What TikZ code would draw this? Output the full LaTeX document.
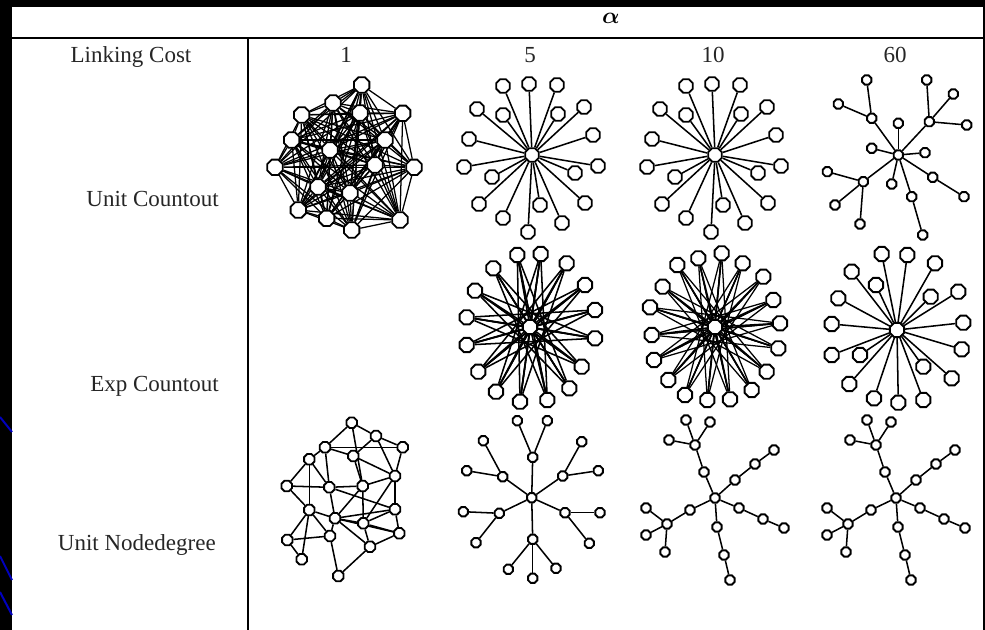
\documentclass[tikz,border=0pt]{standalone}
\usepackage{amsmath}
\usepackage{fontspec}
\setmainfont{Liberation Serif}
\usetikzlibrary{shapes.geometric}
\pgfdeclarelayer{bglayer}
\pgfdeclarelayer{edgelayer}
\pgfsetlayers{bglayer,edgelayer,main}
\tikzset{
  octa/.style={regular polygon, regular polygon sides=8, draw=black, fill=white,
    line width=1.4pt, inner sep=0pt, minimum size=#1},
  bign/.style={octa=11pt},
  densen/.style={octa=12.5pt},
  ringn/.style={octa=11.5pt},
  tn/.style={octa=7.5pt},
  rn/.style={octa=8.5pt},
  edge/.style={line width=1.15pt, black},
  thinedge/.style={line width=0.95pt, black},
  lbl/.style={font=\fontsize{17.25}{20}\selectfont, inner sep=0pt, text=black!85},
  rule/.style={line width=2.2pt, black}
}
% star layout (rows 1, columns 5 and 10)
\newcommand\starA[3]{%
  \node[bign] (#1c) at (#2,#3) {};
  \foreach \dx/\dy [count=\i] in {-29/-69,-3/-71,25/-70,-55/-46,-29/-40,26/-41,52/-48,-63/-16,61/-20,-68/12,-40/22,43/18,66/11,-53/49,53/48,-29/63,8/50,30/68,-4/77}
    {\node[bign] (#1\i) at ({#2+\dx},{#3+\dy}) {};}
  \begin{pgfonlayer}{edgelayer}
    \foreach \i in {1,...,19} \draw[edge] (#1c) -- (#1\i);
  \end{pgfonlayer}
}
% tree layout (row 3, columns 10 and 60)
\newcommand\treeB[3]{%
  \node[tn] (#1c) at (#2,#3) {};
  \foreach \nm/\dx/\dy in {u1/-11/-26,u2/-20/-53,u3/-29/-78,u4/-5/-76,u5/-46/-58,r1/20/-18,r2/40/-34,r3/59/-48,s1/24/10,s2/48/21,s3/69/30,d1/2/29,d2/9/57,d3/15/82,l1/-25/12,l2/-48/26,l3/-69/10,l4/-69/37,l5/-50/54}
    {\node[tn] (#1\nm) at ({#2+\dx},{#3+\dy}) {};}
  \begin{pgfonlayer}{edgelayer}
    \foreach \a/\b in {c/u1,u1/u2,u2/u3,u2/u4,u2/u5,c/r1,r1/r2,r2/r3,c/s1,s1/s2,s2/s3,c/d1,d1/d2,d2/d3,c/l1,l1/l2,l2/l3,l2/l4,l2/l5}
      \draw[edge] (#1\a) -- (#1\b);
  \end{pgfonlayer}
}
\begin{document}
\begin{tikzpicture}[x=0.75pt,y=-0.75pt]
\useasboundingbox (0,0) rectangle (985,630);
\begin{pgfonlayer}{bglayer}
  \fill[black] (0,0) rectangle (985,630);
  \fill[white] (12,7) rectangle (983,630);
  \draw[blue!75!black, line width=1.5pt] (0,417) -- (12,432);
  \draw[blue!75!black, line width=1.5pt] (0,556) -- (12,580);
  \draw[blue!75!black, line width=1.5pt] (0,592) -- (12,615);
\end{pgfonlayer}

% table rules
\draw[rule] (12,38) -- (983,38);
\draw[rule] (248,38) -- (248,630);

% headers
\node[font=\fontsize{17}{18}\selectfont, inner sep=0pt] (alpha) at (611,18) {$\boldsymbol{\alpha}$};
\node[lbl, anchor=base] (hlc) at (131,63) {Linking Cost};
\node[lbl, anchor=base] (h1) at (346,63) {1};
\node[lbl, anchor=base] (h5) at (530,63) {5};
\node[lbl, anchor=base] (h10) at (713,63) {10};
\node[lbl, anchor=base] (h60) at (895,63) {60};
\node[lbl, anchor=base east] (rowa) at (219,207) {Unit Countout};
\node[lbl, anchor=base east] (rowb) at (219,392) {Exp Countout};
\node[lbl, anchor=base east] (rowc) at (216,550) {Unit Nodedegree};

% ---- row 1, column 1: dense graph
\foreach \x/\y [count=\i] in {361.7/85,333/103,301.7/115,402.7/113.3,291.7/140,275/167.3,414/167.3,298.3/210,326.7/218.3,351.7/230,400/220,360/113,350/193,318/187,385/140,330/150,375/165}
  {\node[densen] (d\i) at (\x,\y) {};}
\begin{pgfonlayer}{edgelayer}
  \foreach \i in {1,...,16} {
    \pgfmathtruncatemacro\s{\i+1}
    \foreach \j in {\s,...,17} \draw[thinedge] (d\i) -- (d\j);
  }
\end{pgfonlayer}

% ---- row 1, columns 5 and 10: stars
\starA{sa}{532}{155}
\starA{sb}{715}{155}

% ---- row 1, column 60: tree
\node[tn] (tc) at (898.3,155) {};
\foreach \nm/\x/\y in {A/871.7/118.3,a1/866.7/80,a2/838.3/104,l1/898.3/123.3,B/929.3/121.7,b1/926.7/80,b2/953.3/94,b3/966.7/125,l2/871.7/148.3,l3/925/152.7,C/932.7/177.3,c1/964/196.7,D/863.3/181.7,d1/827.3/171.7,d2/835/205,d3/860/224,l4/891.7/184,E/911.7/196.7,e1/922.7/235}
  {\node[tn] (t\nm) at (\x,\y) {};}
\begin{pgfonlayer}{edgelayer}
  \foreach \a/\b in {c/A,A/a1,A/a2,c/l1,c/B,B/b1,B/b2,B/b3,c/l2,c/l3,c/C,C/c1,c/D,D/d1,D/d2,D/d3,c/l4,c/E,E/e1}
    \draw[edge] (t\a) -- (t\b);
\end{pgfonlayer}

% ---- row 2, column 5: dense ring
\node[ringn] (ec) at (530,327) {};
\foreach \x/\y [count=\i] in {517.3/255,540.7/254,566.7/263.3,585/285,595/310,595/338.3,581.7/366.7,569.3/388.3,547.3/400,520/401.7,496/391.7,478.3/371.7,466.7/345,466.7/317.3,475/290.7,493.3/268.3}
  {\node[ringn] (e\i) at (\x,\y) {};}
\begin{pgfonlayer}{edgelayer}
  \foreach \i in {1,...,16} {
    \draw[edge] (ec) -- (e\i);
    \foreach \k in {7,8} {
      \pgfmathtruncatemacro\j{mod(\i+\k-1,16)+1}
      \draw[edge] (e\i) -- (e\j);
    }
  }
\end{pgfonlayer}

% ---- row 2, column 10: ring
\node[ringn] (fc) at (715,327) {};
\foreach \x/\y [count=\i] in {721.7/253.3,742.7/263.3,763.3/276.7,773.3/300,780/323.3,778.3/348.3,766.7/371.7,751.7/390,730/399.3,707.3/400,685/395,668.3/380,654/360,651.7/335,650/307.3,662.7/286.7,677.3/265,698.3/258.3}
  {\node[ringn] (f\i) at (\x,\y) {};}
\begin{pgfonlayer}{edgelayer}
  \foreach \i in {1,...,18} {
    \draw[edge] (fc) -- (f\i);
    \foreach \k in {8,9} {
      \pgfmathtruncatemacro\j{mod(\i+\k-1,18)+1}
      \draw[thinedge] (f\i) -- (f\j);
    }
  }
\end{pgfonlayer}

% ---- row 2, column 60: star
\node[ringn] (gc) at (897,330) {};
\foreach \x/\y [count=\i] in {881.7/254,907.3/255,851.7/271.7,935/263.3,876/285,958.3/291.7,838.3/298.3,930.7/296.7,831.7/324,963.3/322.7,961.7/349.3,831.7/355,860/355,923.3/366.7,951.7/378.3,849.3/384,874/398.3,898.3/402.7,923.3/400}
  {\node[ringn] (g\i) at (\x,\y) {};}
\begin{pgfonlayer}{edgelayer}
  \foreach \i in {1,...,19} \draw[edge] (gc) -- (g\i);
\end{pgfonlayer}

% ---- row 3, column 1: random graph
\foreach \nm/\x/\y in {a/351.7/422.7,b/376/436,c/325/447.3,d/402.7/447.3,e/353.3/456,f/309.3/459.3,g/395/476,h/286.7/486,i/329.3/487.3,j/362.7/486,k/309.3/510,l/395/509.3,m/335/518.3,n/363.3/523.3,o/287.3/540,p/330/536,q/399.3/533.3,r/370/546.7,s/301.7/559.3,t/338.3/576}
  {\node[rn] (h\nm) at (\x,\y) {};}
\begin{pgfonlayer}{edgelayer}
  \foreach \a/\b in {a/b,a/c,a/j,b/d,b/g,b/e,c/d,c/e,c/f,c/i,e/j,e/g,f/h,f/k,f/i,h/i,h/k,i/j,i/m,i/l,j/g,j/m,j/n,d/g,g/l,g/n,l/q,l/m,l/n,k/m,k/o,k/p,k/s,o/p,o/s,p/m,p/t,m/n,m/r,n/r,n/q,r/q,r/t,q/m}
    \draw[edge] (h\a) -- (h\b);
\end{pgfonlayer}

% ---- row 3, column 5: tree
\node[tn] (kc) at (531.7,497.7) {};
\foreach \nm/\x/\y in {T/532.7/457.3,UL/502.7/476.7,UR/562.7/476,L/499.3/513.3,R/565/512.7,B/532.7/539.3,t1/517.3/420.7,t2/547.3/420.7,ul1/483.3/440.7,ul2/466.7/470.7,ur1/581.7/441.7,ur2/598.3/470.7,l1/463.3/511.7,l2/476/542.7,r1/600/512.7,r2/589.3/543.3,b1/508.3/569.3,b2/532.7/578.3,b3/556/568.3}
  {\node[tn] (k\nm) at (\x,\y) {};}
\begin{pgfonlayer}{edgelayer}
  \foreach \a/\b in {c/T,c/UL,c/UR,c/L,c/R,c/B,T/t1,T/t2,UL/ul1,UL/ul2,UR/ur1,UR/ur2,L/l1,L/l2,R/r1,R/r2,B/b1,B/b2,B/b3}
    \draw[edge] (k\a) -- (k\b);
\end{pgfonlayer}

% ---- row 3, columns 10 and 60: trees
\treeB{ma}{715}{498}
\treeB{mb}{896}{498}
\end{tikzpicture}
\end{document}
